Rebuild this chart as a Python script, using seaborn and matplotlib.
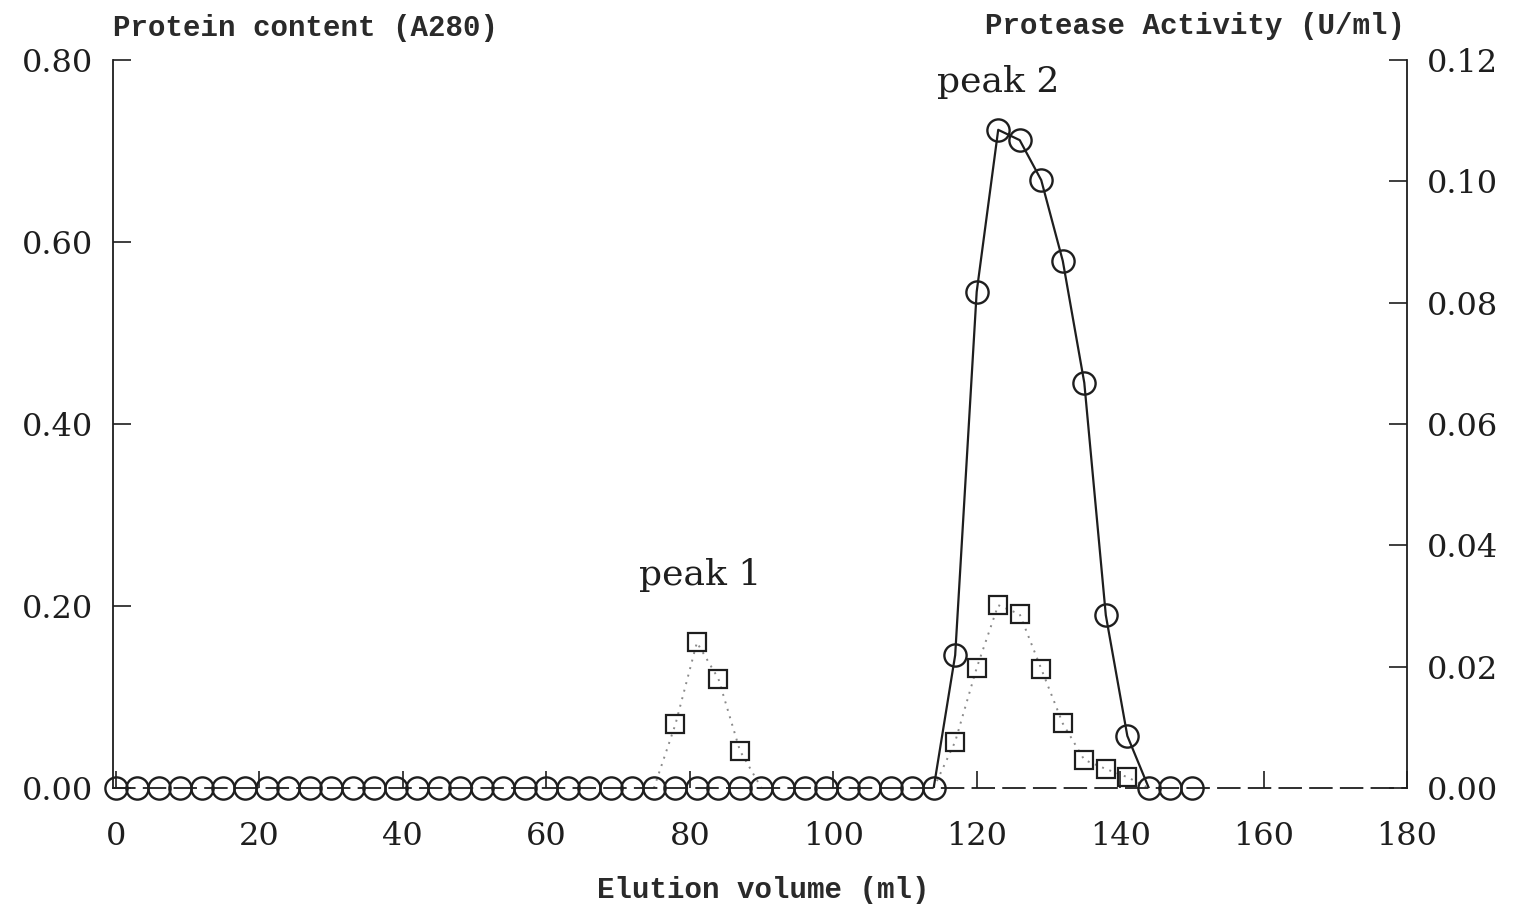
import numpy as np
import pandas as pd
import matplotlib
matplotlib.use("Agg")
import matplotlib.pyplot as plt
import seaborn as sns

# ---- data ----
elution_ml = list(range(0, 151, 3))  # 0,3,...,150

# protease activity (U/ml), right axis, circles + solid line
activity_peak_x = [117, 120, 123, 126, 129, 132, 135, 138, 141]
activity_peak_y = [0.0219, 0.0818, 0.1085, 0.1068, 0.1002, 0.0869, 0.0668, 0.0285, 0.0086]

# protein content (A280), left axis, squares + dotted line
protein_peak_x = [78, 81, 84, 87, 117, 120, 123, 126, 129, 132, 135, 138, 141]
protein_peak_y = [0.070, 0.160, 0.120, 0.041, 0.051, 0.132, 0.201, 0.191, 0.131, 0.071, 0.031, 0.021, 0.012]

left_ticks = [0.00, 0.20, 0.40, 0.60, 0.80]
right_ticks = [0.00, 0.02, 0.04, 0.06, 0.08, 0.10, 0.12]
x_ticks = [0, 20, 40, 60, 80, 100, 120, 140, 160, 180]

peak_labels = ["peak 1", "peak 2"]
peak_label_x = [81.5, 123]
peak_label_y = [0.234, 0.776]

# ---- build full series ----
act_map = dict(zip(activity_peak_x, activity_peak_y))
pro_map = dict(zip(protein_peak_x, protein_peak_y))
df = pd.DataFrame({
    "ml": elution_ml,
    "activity": [act_map.get(v, 0.0) for v in elution_ml],
    "protein": [pro_map.get(v, 0.0) for v in elution_ml],
})


def peak_runs(values):
    """index ranges covering each non-zero run plus the zero neighbours"""
    vals = np.asarray(values)
    nz = np.nonzero(vals > 0)[0]
    runs = []
    if len(nz) == 0:
        return runs
    start = nz[0]
    prev = nz[0]
    for i in nz[1:]:
        if i != prev + 1:
            runs.append((max(start - 1, 0), min(prev + 1, len(vals) - 1)))
            start = i
        prev = i
    runs.append((max(start - 1, 0), min(prev + 1, len(vals) - 1)))
    return runs


sns.set_theme(style="white")
plt.rcParams["font.family"] = ["DejaVu Serif"]

INK = "#1e1e1e"

fig = plt.figure(figsize=(15.13, 9.10), dpi=100)
ax = fig.add_axes([0.0747, 0.134, 0.8553, 0.800])
ax2 = ax.twinx()

# protein: dotted gray line per peak, squares at non-zero points
for a, b in peak_runs(df["protein"]):
    seg = df.iloc[a:b + 1]
    sns.lineplot(data=seg, x="ml", y="protein", ax=ax, color="#8a8a8a",
                 linestyle=(0, (1, 3)), linewidth=1.4, estimator=None, legend=False)
nz_pro = df[df["protein"] > 0]
sns.lineplot(data=nz_pro, x="ml", y="protein", ax=ax, linestyle="", marker="s",
             markersize=13, markerfacecolor="none", markeredgecolor=INK,
             markeredgewidth=1.6, estimator=None, legend=False, clip_on=False)

# activity: solid line over the peak, circles everywhere
for a, b in peak_runs(df["activity"]):
    seg = df.iloc[a:b + 1]
    sns.lineplot(data=seg, x="ml", y="activity", ax=ax2, color=INK,
                 linewidth=1.6, estimator=None, legend=False)
sns.lineplot(data=df, x="ml", y="activity", ax=ax2, linestyle="", marker="o",
             markersize=16, markerfacecolor="none", markeredgecolor=INK,
             markeredgewidth=1.7, estimator=None, legend=False, clip_on=False)

# axes limits / ticks
ax.set_xlim(-0.4, 180)
ax.set_ylim(0, 0.80)
ax2.set_ylim(0, 0.12)
ax.set_xticks(x_ticks)
ax.set_xticklabels([str(v) for v in x_ticks])
ax.set_yticks(left_ticks)
ax.set_yticklabels([f"{v:.2f}" for v in left_ticks])
ax2.set_yticks(right_ticks)
ax2.set_yticklabels([f"{v:.2f}" for v in right_ticks])
ax.set_xlabel("")
ax.set_ylabel("")
ax2.set_ylabel("")

ax.tick_params(axis="x", direction="in", length=12, width=1.2, pad=24,
               labelsize=23, colors=INK, bottom=True)
ax.tick_params(axis="y", direction="in", length=13, width=1.2, pad=14,
               labelsize=23, colors=INK, left=True)
ax2.tick_params(axis="y", direction="in", length=13, width=1.2, pad=14,
                labelsize=23, colors=INK, right=True)

for a_ in (ax, ax2):
    a_.spines["top"].set_visible(False)
    a_.grid(False)
ax.spines["right"].set_visible(False)
ax2.spines["left"].set_visible(False)
ax2.spines["bottom"].set_visible(False)
ax.spines["left"].set_color(INK)
ax.spines["left"].set_linewidth(1.3)
ax2.spines["right"].set_color(INK)
ax2.spines["right"].set_linewidth(1.3)
ax.spines["bottom"].set_color(INK)
ax.spines["bottom"].set_linewidth(1.3)
ax.spines["bottom"].set_linestyle((0, (12, 5)))

# peak annotations
for lbl, px, py in zip(peak_labels, peak_label_x, peak_label_y):
    ax.text(px, py, lbl, ha="center", va="center", fontsize=26, color=INK)

# axis titles
title_font = dict(family=["Liberation Mono", "DejaVu Sans Mono"], fontsize=21,
                  color="#2a2a2a", fontweight="bold")
fig.text(113 / 1513, 1 - 28 / 910, "Protein content (A280)", ha="left", va="center",
         **title_font)
fig.text(1405 / 1513, 1 - 26 / 910, "Protease Activity (U/ml)", ha="right", va="center",
         **title_font)
fig.text(763 / 1513, 1 - 890 / 910, "Elution volume (ml)", ha="center", va="center",
         **title_font)

fig.savefig("out.png", dpi=100, facecolor="white")
